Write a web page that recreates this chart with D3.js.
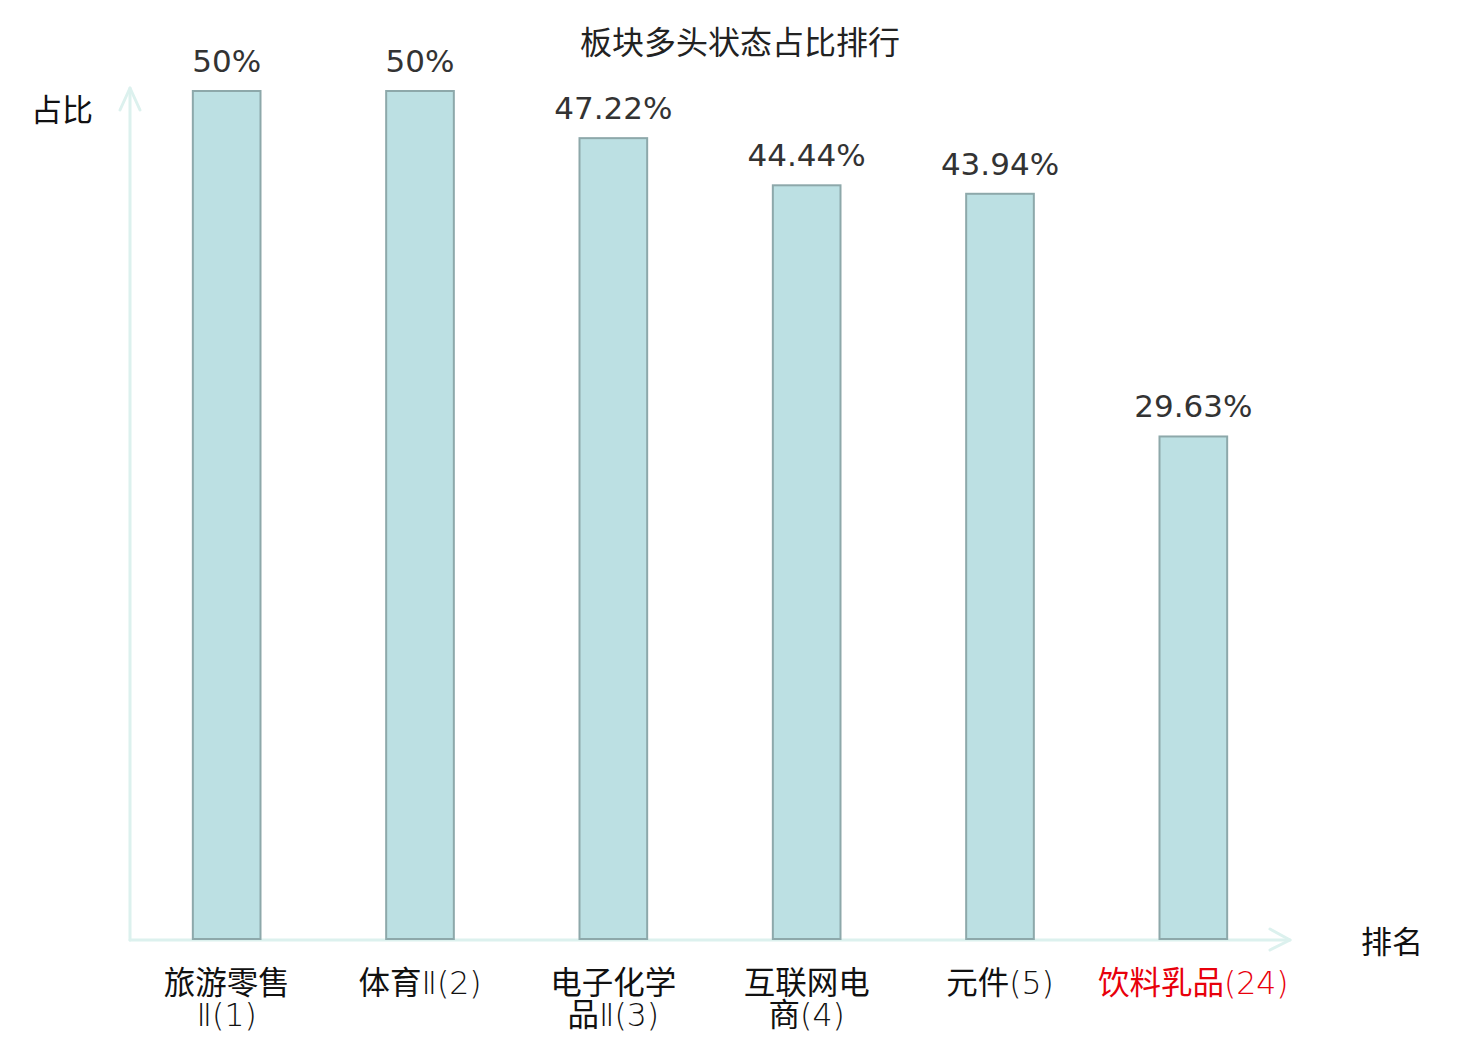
<!DOCTYPE html>
<html>
<head>
<meta charset="utf-8">
<script src="https://cdn.jsdelivr.net/npm/d3@7"></script>
<style>
  html, body { margin: 0; padding: 0; background: #fff; }
  svg { display: block; }
</style>
</head>
<body>
<svg id="chart"></svg>
<script>
// chart data
const names = ['旅游零售Ⅱ', '体育Ⅱ', '电子化学品Ⅱ', '互联网电商', '元件', '饮料乳品'];
const ranks = [1, 2, 3, 4, 5, 24];
const shares = [50, 50, 47.22, 44.44, 43.94, 29.63];
const highlight = [false, false, false, false, false, true];

const W = 1480, H = 1040;
const plotLeft = 130, plotRight = 1290, plotBottom = 939, plotTop = 91;

const svg = d3.select('#chart').attr('width', W).attr('height', H);

// scales
const x = d3.scaleBand().domain(names).range([plotLeft, plotRight]).padding(0);
const y = d3.scaleLinear().domain([0, 50]).range([plotBottom, plotTop]);
const barW = x.bandwidth() * 0.35;

const axisColor = '#dcf1ee';
const cjk = '"Noto Sans CJK SC", sans-serif';

// title
svg.append('text')
    .attr('x', 740).attr('y', 54)
    .attr('text-anchor', 'middle')
    .attr('font-family', cjk)
    .attr('font-size', 32)
    .attr('fill', '#222')
    .text('板块多头状态占比排行');

// axes with arrow heads
const axes = svg.append('g')
    .attr('fill', 'none')
    .attr('stroke', axisColor)
    .attr('stroke-width', 3)
    .attr('stroke-linecap', 'round')
    .attr('stroke-linejoin', 'round');

axes.append('path').attr('d', `M${plotLeft},${plotBottom + 1}V${plotTop - 3}`);
axes.append('path').attr('d', `M${plotLeft - 10},${plotTop + 19}L${plotLeft},${plotTop - 3}L${plotLeft + 10},${plotTop + 19}`);
axes.append('path').attr('d', `M${plotLeft},${plotBottom + 1}H${plotRight}`);
axes.append('path').attr('d', `M${plotRight - 20},${plotBottom - 10}L${plotRight},${plotBottom + 1}L${plotRight - 20},${plotBottom + 11}`);

// axis names
svg.append('text')
    .attr('x', 93).attr('y', 121)
    .attr('text-anchor', 'end')
    .attr('font-family', cjk)
    .attr('font-size', 31)
    .attr('fill', '#111')
    .text('占比');

svg.append('text')
    .attr('x', 1361).attr('y', 953)
    .attr('font-family', cjk)
    .attr('font-size', 31)
    .attr('fill', '#111')
    .text('排名');

// bars
svg.append('g').selectAll('rect')
    .data(names)
    .join('rect')
    .attr('x', d => x(d) + (x.bandwidth() - barW) / 2)
    .attr('y', (d, i) => y(shares[i]))
    .attr('width', barW)
    .attr('height', (d, i) => y(0) - y(shares[i]))
    .attr('fill', '#bce0e3')
    .attr('stroke', '#8da8aa')
    .attr('stroke-width', 2);

// value labels
svg.append('g').selectAll('text')
    .data(names)
    .join('text')
    .attr('x', d => x(d) + x.bandwidth() / 2)
    .attr('y', (d, i) => y(shares[i]) - 19)
    .attr('text-anchor', 'middle')
    .attr('font-family', '"DejaVu Sans", sans-serif')
    .attr('font-size', 31)
    .attr('fill', '#333')
    .text((d, i) => shares[i] + '%');

// category labels: names broken every 4 chars, rank appended
function labelLines(name, rank) {
    const lines = [];
    for (let i = 0; i < name.length; i += 4) lines.push(name.slice(i, i + 4));
    lines[lines.length - 1] += `(${rank})`;
    return lines;
}

const isHan = s => /[\u4e00-\u9fff]/.test(s);

const tickG = svg.append('g')
    .attr('text-anchor', 'middle')
    .attr('font-size', 31.5);

names.forEach((name, i) => {
    const cx = x(name) + x.bandwidth() / 2;
    const fill = highlight[i] ? '#e8000b' : '#111';
    labelLines(name, ranks[i]).forEach((line, j) => {
        const t = tickG.append('text')
            .attr('x', cx)
            .attr('y', 994 + j * 32)
            .attr('fill', fill);
        // han characters in the CJK font, the rest thin DejaVu
        line.split(/([\u4e00-\u9fff]+)/).filter(s => s.length).forEach(run => {
            t.append('tspan')
                .attr('font-family', isHan(run) ? cjk : '"DejaVu Sans", sans-serif')
                .attr('font-weight', isHan(run) ? 400 : 200)
                .text(run);
        });
    });
});
</script>
</body>
</html>
